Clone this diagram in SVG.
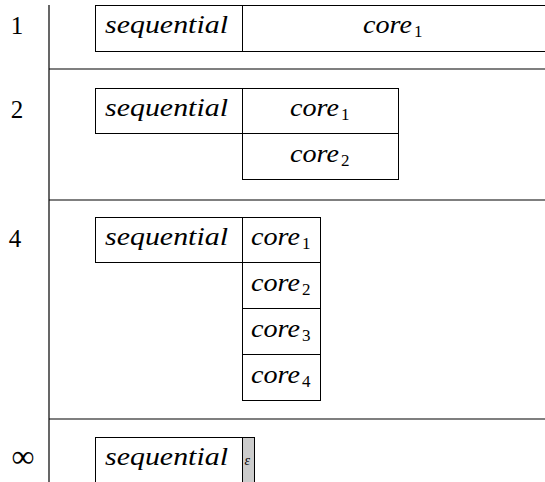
<svg xmlns="http://www.w3.org/2000/svg" width="545" height="482" viewBox="0 0 545 482">
<style>
.b{fill:#fff;stroke:#000;stroke-width:1}
</style>
<rect width="545" height="482" fill="#fff"/>
<g id="axes" stroke="#000" stroke-width="1.2" fill="none">
<line x1="49" y1="5" x2="49" y2="482"/>
<line x1="49" y1="69" x2="545" y2="69"/>
<line x1="49" y1="200" x2="545" y2="200"/>
<line x1="49" y1="419" x2="545" y2="419"/>
</g>
<g id="labels">
<text x="17" y="34" font-family="Times New Roman" font-size="25" text-anchor="middle">1</text>
<text x="17" y="118" font-family="Times New Roman" font-size="25" text-anchor="middle">2</text>
<text x="15" y="247" font-family="Times New Roman" font-size="25" text-anchor="middle">4</text>
<text x="23" y="467" font-family="Times New Roman" font-size="32" text-anchor="middle">∞</text>
</g>
<g id="row1">
<rect class="b" x="95.5" y="5.5" width="147" height="46"/>
<text x="105" y="33" font-family="Times New Roman" font-style="italic" font-size="26" textLength="123" lengthAdjust="spacingAndGlyphs">sequential</text>
<rect class="b" x="242.5" y="5.5" width="304" height="46"/>
<text x="363" y="33" font-family="Times New Roman" font-style="italic" font-size="26" textLength="49" lengthAdjust="spacingAndGlyphs">core</text>
<text x="414" y="37" font-family="Times New Roman" font-size="17">1</text>
</g>
<g id="row2">
<rect class="b" x="95.5" y="88.5" width="147" height="45"/>
<text x="105" y="116" font-family="Times New Roman" font-style="italic" font-size="26" textLength="123" lengthAdjust="spacingAndGlyphs">sequential</text>
<rect class="b" x="242.5" y="88.5" width="156" height="45"/>
<text x="290" y="116" font-family="Times New Roman" font-style="italic" font-size="26" textLength="49" lengthAdjust="spacingAndGlyphs">core</text>
<text x="341" y="120" font-family="Times New Roman" font-size="17">1</text>
<rect class="b" x="242.5" y="133.5" width="156" height="46"/>
<text x="290" y="162" font-family="Times New Roman" font-style="italic" font-size="26" textLength="49" lengthAdjust="spacingAndGlyphs">core</text>
<text x="341" y="166" font-family="Times New Roman" font-size="17">2</text>
</g>
<g id="row4">
<rect class="b" x="95.5" y="217.5" width="147" height="45"/>
<text x="105" y="245" font-family="Times New Roman" font-style="italic" font-size="26" textLength="123" lengthAdjust="spacingAndGlyphs">sequential</text>
<rect class="b" x="242.5" y="217.5" width="78" height="45"/>
<text x="251" y="245" font-family="Times New Roman" font-style="italic" font-size="26" textLength="49" lengthAdjust="spacingAndGlyphs">core</text>
<text x="302" y="249" font-family="Times New Roman" font-size="17">1</text>
<rect class="b" x="242.5" y="262.5" width="78" height="46"/>
<text x="251" y="291" font-family="Times New Roman" font-style="italic" font-size="26" textLength="49" lengthAdjust="spacingAndGlyphs">core</text>
<text x="302" y="295" font-family="Times New Roman" font-size="17">2</text>
<rect class="b" x="242.5" y="308.5" width="78" height="46"/>
<text x="251" y="337" font-family="Times New Roman" font-style="italic" font-size="26" textLength="49" lengthAdjust="spacingAndGlyphs">core</text>
<text x="302" y="341" font-family="Times New Roman" font-size="17">3</text>
<rect class="b" x="242.5" y="354.5" width="78" height="46"/>
<text x="251" y="383" font-family="Times New Roman" font-style="italic" font-size="26" textLength="49" lengthAdjust="spacingAndGlyphs">core</text>
<text x="302" y="387" font-family="Times New Roman" font-size="17">4</text>
</g>
<g id="rowinf">
<rect class="b" x="95.5" y="437.5" width="147" height="50"/>
<text x="105" y="465" font-family="Times New Roman" font-style="italic" font-size="26" textLength="123" lengthAdjust="spacingAndGlyphs">sequential</text>
<rect x="242.5" y="437.5" width="12" height="50" fill="#ccc" stroke="#000"/>
<text x="244.5" y="465" font-family="Times New Roman" font-style="italic" font-size="14">ε</text>
</g>
</svg>
